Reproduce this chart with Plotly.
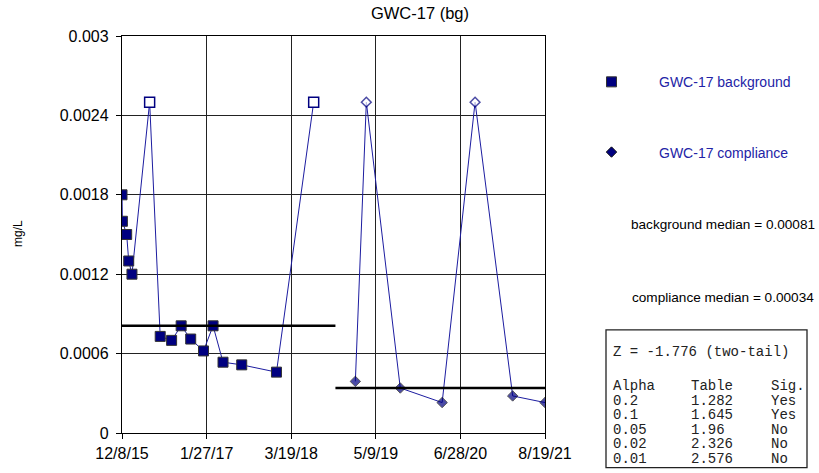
import plotly.graph_objects as go
from datetime import datetime

# ---------------- data ----------------
bg_dates = ["2015-12-08", "2015-12-10", "2015-12-31", "2016-01-10", "2016-01-26",
            "2016-04-22", "2016-06-13", "2016-08-08", "2016-09-24", "2016-11-10",
            "2017-01-12", "2017-02-28", "2017-04-18", "2017-07-19", "2018-01-06",
            "2018-07-08"]
bg_values = [0.0018, 0.0016, 0.0015, 0.0013, 0.0012,
             0.0025, 0.00073, 0.0007, 0.00081, 0.00071,
             0.00062, 0.00081, 0.000535, 0.000515, 0.00046,
             0.0025]
bg_nondetect = [0, 0, 0, 0, 0, 1, 0, 0, 0, 0, 0, 0, 0, 0, 0, 1]

cp_dates = ["2019-01-29", "2019-03-24", "2019-09-07", "2020-03-31",
            "2020-09-09", "2021-03-13", "2021-08-19"]
cp_values = [0.00039, 0.0025, 0.00034, 0.00023, 0.0025, 0.00028, 0.00023]
cp_nondetect = [0, 1, 0, 0, 1, 0, 0]

bg_median = 0.00081
cp_median = 0.00034
bg_median_span = ["2015-12-08", "2018-10-23"]
cp_median_span = ["2018-10-23", "2021-08-19"]

y_tickvals = [0, 0.0006, 0.0012, 0.0018, 0.0024, 0.003]
y_ticktext = ["0", "0.0006", "0.0012", "0.0018", "0.0024", "0.003"]
x_start, x_end = "2015-12-08", "2021-08-19"
x_ticktext = ["12/8/15", "1/27/17", "3/19/18", "5/9/19", "6/28/20", "8/19/21"]

z_line = "Z = -1.776 (two-tail)"
tbl_header = ["Alpha", "Table", "Sig."]
tbl_alpha = ["0.2", "0.1", "0.05", "0.02", "0.01"]
tbl_table = ["1.282", "1.645", "1.96", "2.326", "2.576"]
tbl_sig = ["Yes", "Yes", "No", "No", "No"]

# ---------------- styling ----------------
W, H = 819, 473
L, R, T, B = 122, 545, 35.7, 433.3   # plot area in window pixels
NAVY = "#000080"
LINE = "#1c1ca0"
SANS = "Arial, Liberation Sans, sans-serif"
MONO = "Courier New, Liberation Mono, monospace"


def xp(px):
    return (px - L) / (R - L)


def yp(py):
    return (B - py) / (B - T)


fig = go.Figure()

fig.add_trace(go.Scatter(
    x=bg_dates, y=bg_values, mode="lines+markers", name="GWC-17 background",
    line=dict(color=LINE, width=1),
    marker=dict(symbol="square", size=10,
                color=["white" if n else NAVY for n in bg_nondetect],
                line=dict(width=[1.5 if n else 1 for n in bg_nondetect],
                          color=[NAVY if n else "#333333" for n in bg_nondetect])),
    showlegend=False))

fig.add_trace(go.Scatter(
    x=cp_dates, y=cp_values, mode="lines+markers", name="GWC-17 compliance",
    line=dict(color=LINE, width=1),
    marker=dict(symbol="diamond", size=[7.5 if n else 8 for n in cp_nondetect],
                color=["white" if n else NAVY for n in cp_nondetect],
                line=dict(width=[1.5 if n else 1 for n in cp_nondetect],
                          color=[NAVY if n else "#111111" for n in cp_nondetect])),
    showlegend=False))

fig.add_trace(go.Scatter(x=bg_median_span, y=[bg_median, bg_median], mode="lines",
                         line=dict(color="black", width=2.6), showlegend=False,
                         hoverinfo="skip"))
fig.add_trace(go.Scatter(x=cp_median_span, y=[cp_median, cp_median], mode="lines",
                         line=dict(color="black", width=2.6), showlegend=False,
                         hoverinfo="skip"))

# legend entries (marker-only swatches)
fig.add_trace(go.Scatter(x=[None], y=[None], mode="markers", name="GWC-17 background",
                         legendgroup="a",
                         marker=dict(symbol="square", size=10, color=NAVY,
                                     line=dict(width=1, color="#333333"))))
fig.add_trace(go.Scatter(x=[None], y=[None], mode="markers", name="GWC-17 compliance",
                         legendgroup="b",
                         marker=dict(symbol="diamond", size=8, color=NAVY,
                                     line=dict(width=1, color="#111111"))))

annotations = [
    dict(text="mg/L", x=18, y=234, textangle=-90, font=dict(size=12, color="black", family=SANS)),
    dict(text="background median = 0.00081", x=629, y=224, xanchor="left",
         font=dict(size=13.6, color="black", family=SANS)),
    dict(text="compliance median = 0.00034", x=630, y=298, xanchor="left",
         font=dict(size=13.6, color="black", family=SANS)),
    dict(text=z_line, x=611, y=352, xanchor="left", font=dict(size=14, color="#222222", family=MONO)),
]
rows_y = [386.5, 401, 415.5, 430, 444.5, 459]
cols_x = [611, 689, 769]
cols = [[tbl_header[0]] + tbl_alpha, [tbl_header[1]] + tbl_table, [tbl_header[2]] + tbl_sig]
for cx, col in zip(cols_x, cols):
    for ry, txt in zip(rows_y, col):
        annotations.append(dict(text=txt, x=cx, y=ry, xanchor="left",
                                font=dict(size=14, color="#222222", family=MONO)))

for a in annotations:
    a["x"] = xp(a["x"])
    a["y"] = yp(a["y"])
    a.setdefault("xanchor", "center")
    a["yanchor"] = "middle"
    a["xref"] = "paper"
    a["yref"] = "paper"
    a["showarrow"] = False

# Excel-style evenly spaced date ticks across the axis range
t0 = datetime.fromisoformat(x_start)
t1 = datetime.fromisoformat(x_end)
n = len(x_ticktext) - 1
x_tickvals = [(t0 + (t1 - t0) * i / n).isoformat() for i in range(n + 1)]

fig.update_layout(
    width=W, height=H,
    margin=dict(l=L, r=W - R, t=T, b=H - B, pad=0),
    paper_bgcolor="white", plot_bgcolor="white",
    font=dict(family=SANS, color="black"),
    title=dict(text="GWC-17 (bg)", x=420 / W, xanchor="center",
               y=1 - 13.5 / H, yanchor="middle",
               font=dict(size=16.5, family=SANS, color="black")),
    xaxis=dict(type="date", range=[x_start, x_end], tickvals=x_tickvals, ticktext=x_ticktext,
               tickfont=dict(size=16, family=SANS, color="black"),
               showgrid=True, gridcolor="#222222", gridwidth=1,
               showline=True, linecolor="black", linewidth=1.3, mirror=True,
               ticks="outside", ticklen=5, tickcolor="black", zeroline=False,
               ticklabelstandoff=1),
    yaxis=dict(range=[0, 0.003], tickvals=y_tickvals, ticktext=y_ticktext,
               tickfont=dict(size=16, family=SANS, color="black"),
               showgrid=True, gridcolor="#222222", gridwidth=1,
               showline=True, linecolor="black", linewidth=1.3, mirror=True,
               ticks="outside", ticklen=5, tickcolor="black", zeroline=False,
               ticklabelstandoff=4),
    legend=dict(x=xp(564), y=yp(66), xanchor="left", yanchor="top",
                font=dict(size=14, family=SANS, color="#2323a6"),
                itemwidth=85, tracegroupgap=49, traceorder="grouped",
                bgcolor="rgba(0,0,0,0)", borderwidth=0),
    annotations=annotations,
    shapes=[dict(type="rect", xref="paper", yref="paper",
                 x0=xp(606), x1=xp(807), y0=yp(468), y1=yp(330),
                 line=dict(color="#222222", width=1.3), fillcolor="rgba(0,0,0,0)")],
)

# remove the browser's default 8px page margin so the figure fills the window exactly
fig.write_html("out.html", config={"displayModeBar": False},
               post_script="document.body.style.margin='0';document.body.style.overflow='hidden';")
